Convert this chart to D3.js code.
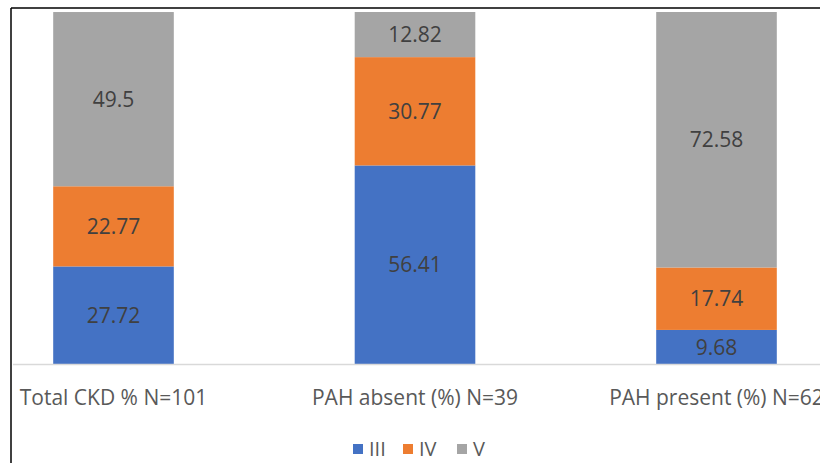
<!DOCTYPE html>
<html>
<head>
<meta charset="utf-8">
<script src="https://cdn.jsdelivr.net/npm/d3@7"></script>
<style>
  html, body { margin: 0; padding: 0; background: #fff; }
  svg { display: block; }
</style>
</head>
<body>
<svg id="chart" width="820" height="463"></svg>
<script>
// CKD stage distribution, stacked to 100 %
const categories = ["Total CKD % N=101", "PAH absent (%) N=39", "PAH present (%) N=62"];
const stages = ["III", "IV", "V"];
const stageIII = [27.72, 56.41, 9.68];
const stageIV = [22.77, 30.77, 17.74];
const stageV = [49.5, 12.82, 72.58];
const stageColors = ["#4472C4", "#ED7D31", "#A5A5A5"];

const rows = categories.map((c, i) => ({ cat: c, III: stageIII[i], IV: stageIV[i], V: stageV[i] }));

const svg = d3.select("#chart");
const W = 820, H = 463;
const font = "'Open Sans', 'Noto Sans', sans-serif";

// outer frame (top and left edges visible)
svg.append("line").attr("x1", 11).attr("x2", W).attr("y1", 8).attr("y2", 8)
  .attr("stroke", "#000").attr("stroke-width", 1.5);
svg.append("line").attr("x1", 11).attr("x2", 11).attr("y1", 8).attr("y2", H)
  .attr("stroke", "#000").attr("stroke-width", 1.5);

const x = d3.scaleBand().domain(categories).range([-37.25, 867.25])
  .paddingInner(0.6).paddingOuter(0.3);
const y = d3.scaleLinear().domain([0, 100]).range([364, 12]);

const series = d3.stack().keys(stages)(rows);
const color = d3.scaleOrdinal().domain(stages).range(stageColors);

const g = svg.append("g");
series.forEach(s => {
  g.selectAll(null).data(s).join("rect")
    .attr("x", d => x(d.data.cat))
    .attr("width", x.bandwidth())
    .attr("y", d => y(d[1]))
    .attr("height", d => y(d[0]) - y(d[1]))
    .attr("fill", color(s.key));
  g.selectAll(null).data(s).join("text")
    .attr("x", d => x(d.data.cat) + x.bandwidth() / 2)
    .attr("y", d => (y(d[0]) + y(d[1])) / 2)
    .attr("dy", "0.36em")
    .attr("text-anchor", "middle")
    .attr("font-family", font)
    .attr("font-size", 21)
    .attr("fill", "#404040")
    .text(d => d.data[s.key]);
});

// category axis
svg.append("line").attr("x1", 13).attr("x2", W).attr("y1", y(0) + 0.5).attr("y2", y(0) + 0.5)
  .attr("stroke", "#D9D9D9").attr("stroke-width", 1.5);
svg.append("g").selectAll("text").data(categories).join("text")
  .attr("x", d => x(d) + x.bandwidth() / 2)
  .attr("y", 397)
  .attr("dy", "0.36em")
  .attr("text-anchor", "middle")
  .attr("font-family", font)
  .attr("font-size", 21)
  .attr("fill", "#595959")
  .text(d => d);

// legend
const legendX = [353, 403, 457];
const lg = svg.append("g");
stages.forEach((k, i) => {
  lg.append("rect").attr("x", legendX[i]).attr("y", 444).attr("width", 10).attr("height", 10)
    .attr("fill", color(k));
  lg.append("text").attr("x", legendX[i] + 16).attr("y", 449).attr("dy", "0.36em")
    .attr("font-family", font).attr("font-size", 20).attr("fill", "#595959").text(k);
});
</script>
</body>
</html>
